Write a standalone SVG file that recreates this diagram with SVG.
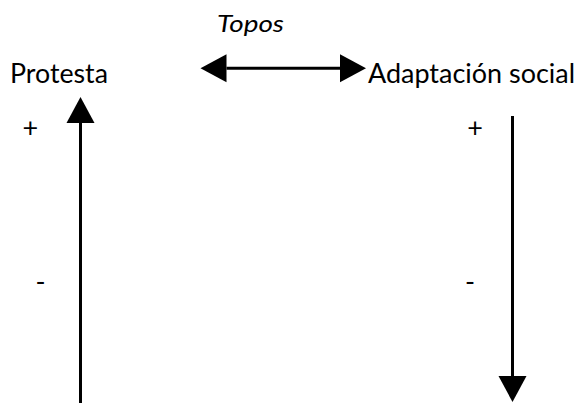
<svg xmlns="http://www.w3.org/2000/svg" width="579" height="403" viewBox="0 0 579 403">
<style>
.t{font-family:Lato,"Liberation Sans",Arial,sans-serif;fill:#000}
.c{stroke:#000;stroke-width:3;fill:none}
</style>
<defs>
<marker id="ah" viewBox="0 0 26 28" refX="0" refY="14" markerWidth="26" markerHeight="28" markerUnits="userSpaceOnUse" orient="auto-start-reverse" overflow="visible">
<path d="M0,0 L26,14 L0,28 Z" fill="#000"/>
</marker>
</defs>
<rect width="579" height="403" fill="#fff"/>
<g id="topos"><text class="t" x="217" y="31.5" font-size="24" font-style="italic" textLength="67" lengthAdjust="spacingAndGlyphs">Topos</text></g>
<g id="protesta"><text class="t" x="10" y="83" font-size="27" textLength="98" lengthAdjust="spacingAndGlyphs">Protesta</text></g>
<g id="adaptacion"><text class="t" x="368" y="83" font-size="27" textLength="207" lengthAdjust="spacingAndGlyphs">Adaptación social</text></g>
<g id="signs">
<text class="t" x="30.3" y="137" font-size="27" text-anchor="middle">+</text>
<text class="t" x="475" y="137" font-size="27" text-anchor="middle">+</text>
<text class="t" x="40.5" y="291" font-size="27" text-anchor="middle">-</text>
<text class="t" x="470" y="291" font-size="27" text-anchor="middle">-</text>
</g>
<g id="connectors">
<line class="c" x1="226.5" y1="68.3" x2="340" y2="68.3" marker-start="url(#ah)" marker-end="url(#ah)"/>
<line class="c" x1="80.5" y1="403" x2="80.5" y2="123" marker-end="url(#ah)"/>
<line class="c" x1="512.5" y1="116" x2="512.5" y2="376" marker-end="url(#ah)"/>
</g>
</svg>
